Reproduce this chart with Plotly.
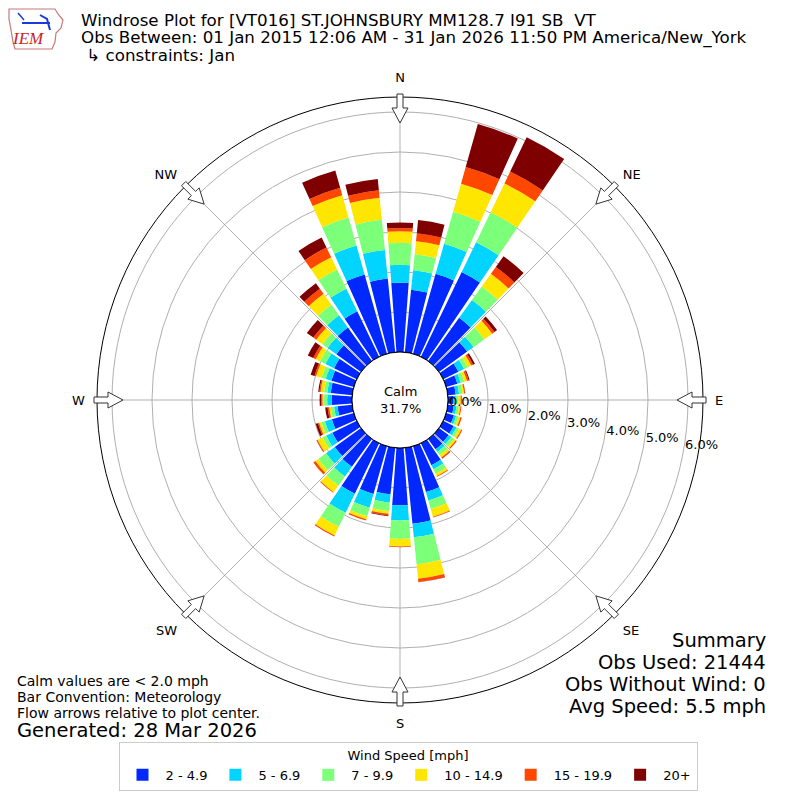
import math

import plotly.graph_objects as go

# wind direction bins (degrees, meteorological convention)
directions = list(range(0, 360, 10))

speed_bins = ["2 - 4.9", "5 - 6.9", "7 - 9.9", "10 - 14.9", "15 - 19.9", "20+"]
bin_colors = ["#0028ff", "#00d4ff", "#7cff79", "#ffe600", "#ff4700", "#7f0000"]

# percent of observations per direction, one list per speed bin
pct_2_5 = [1.73, 1.57, 2.08, 2.35, 1.33, 0.87, 0.42, 0.29, 0.20, 0.13, 0.15, 0.20,
           0.29, 0.30, 0.32, 0.61, 1.19, 1.91, 1.43, 1.17, 1.24, 1.40, 0.86, 0.81,
           0.68, 0.57, 0.37, 0.51, 0.54, 0.58, 0.63, 0.76, 1.03, 1.26, 2.06, 1.85]
pct_5_7 = [0.45, 0.49, 0.78, 0.83, 0.55, 0.20, 0.16, 0.09, 0.085, 0.07, 0.07, 0.06,
           0.08, 0.08, 0.08, 0.11, 0.22, 0.34, 0.38, 0.21, 0.36, 0.53, 0.30, 0.27,
           0.17, 0.18, 0.085, 0.11, 0.085, 0.15, 0.24, 0.27, 0.38, 0.63, 0.75, 0.72]
pct_7_10 = [0.55, 0.40, 0.83, 0.83, 0.42, 0.33, 0.10, 0.09, 0.085, 0.06, 0.06, 0.06,
            0.07, 0.08, 0.10, 0.13, 0.22, 0.68, 0.46, 0.21, 0.22, 0.39, 0.28, 0.24,
            0.10, 0.09, 0.085, 0.08, 0.085, 0.11, 0.15, 0.16, 0.33, 0.53, 0.73, 0.76]
pct_10_15 = [0.29, 0.33, 0.73, 0.80, 0.39, 0.24, 0.10, 0.07, 0.04, 0.06, 0.04, 0.05,
             0.06, 0.06, 0.07, 0.06, 0.20, 0.36, 0.19, 0.07, 0.08, 0.24, 0.20, 0.09,
             0.14, 0.06, 0.04, 0.04, 0.085, 0.14, 0.12, 0.19, 0.33, 0.34, 0.58, 0.55]
pct_15_20 = [0.08, 0.20, 0.43, 0.33, 0.21, 0.07, 0.05, 0.045, 0.025, 0.025, 0.025, 0.035,
             0.03, 0.03, 0.03, 0.02, 0.02, 0.08, 0.02, 0.04, 0.03, 0.03, 0.02, 0.06,
             0.02, 0.03, 0.04, 0.03, 0.03, 0.04, 0.07, 0.09, 0.16, 0.27, 0.19, 0.19]
pct_20_up = [0.14, 0.33, 1.12, 0.95, 0.33, 0.08, 0.05, 0.025, 0.005, 0.005, 0.0, 0.0,
             0.0, 0.0, 0.01, 0.0, 0.0, 0.01, 0.0, 0.02, 0.0, 0.0, 0.0, 0.0,
             0.01, 0.06, 0.06, 0.04, 0.03, 0.10, 0.15, 0.20, 0.17, 0.28, 0.45, 0.28]

series = [pct_2_5, pct_5_7, pct_7_10, pct_10_15, pct_15_20, pct_20_up]

compass_angles = [0, 45, 90, 135, 180, 225, 270, 315]
compass_labels = ["N", "NE", "E", "SE", "S", "SW", "W", "NW"]
radial_ticks = [0, 1, 2, 3, 4, 5, 6]

calm_pct = 31.7
title_lines = [
    "Windrose Plot for [VT016] ST.JOHNSBURY MM128.7 I91 SB  VT",
    "Obs Between: 01 Jan 2015 12:06 AM - 31 Jan 2026 11:50 PM America/New_York",
    " \u21b3 constraints: Jan",
]
notes = ["Calm values are < 2.0 mph", "Bar Convention: Meteorology",
         "Flow arrows relative to plot center."]
summary = ["Summary", "Obs Used: 21444", "Obs Without Wind: 0", "Avg Speed: 5.5 mph"]

W = 800
OFF = 8  # page body margin
CX, CY, R = 400, 400, 303

fig = go.Figure()
for name, color, vals in zip(speed_bins, bin_colors, series):
    fig.add_trace(go.Barpolar(r=vals, theta=directions, name=name, width=8.5,
                              marker=dict(color=color, line=dict(width=0))))

# black edge around the calm hole
fig.add_trace(go.Scatterpolar(r=[0] * 361, theta=list(range(361)), mode="lines",
                              line=dict(color="black", width=1), showlegend=False,
                              hoverinfo="skip"))


def px2paper(x, y):
    return (x - OFF) / W, 1 - (y - OFF) / W


def pix_path(pts, close=True):
    out = ""
    for i, (x, y) in enumerate(pts):
        px, py = px2paper(x, y)
        out += ("M" if i == 0 else "L") + f"{px:.5f},{py:.5f} "
    return out + ("Z" if close else "")


# hollow flow arrows at compass points, pointing inward
shapes = []
for a in compass_angles:
    t = math.radians(a)
    ux, uy = math.sin(t), -math.cos(t)
    vx, vy = math.cos(t), math.sin(t)
    pts = [(277, 0), (292, 8), (292, 3), (306, 3), (306, -3), (292, -3), (292, -8)]
    xy = [(CX + rr * ux + ww * vx, CY + rr * uy + ww * vy) for rr, ww in pts]
    shapes.append(dict(type="path", path=pix_path(xy), xref="paper", yref="paper",
                       line=dict(color="#333333", width=1), fillcolor="white"))

# rough IEM logo: state outline and vane
shapes.append(dict(type="path", xref="paper", yref="paper",
                   path=pix_path([(9, 9), (55, 9), (58, 14), (63, 20), (61, 28), (56, 33),
                                  (55, 42), (52, 49), (15, 49), (13, 42), (11, 30),
                                  (9, 19)]),
                   line=dict(color="#c87878", width=1.2)))
shapes.append(dict(type="path", xref="paper", yref="paper",
                   path=pix_path([(22, 23), (50, 23)], close=False),
                   line=dict(color="#1a3adb", width=2)))
shapes.append(dict(type="path", xref="paper", yref="paper",
                   path=pix_path([(18, 13), (24, 20)], close=False),
                   line=dict(color="#1a3adb", width=1.5)))
shapes.append(dict(type="path", xref="paper", yref="paper",
                   path=pix_path([(40, 15), (47, 19), (50, 30)], close=False),
                   line=dict(color="#1a3adb", width=2)))


def label(text, x, y, size, anchor="left", **font):
    px, py = px2paper(x, y)
    return dict(text=text, x=px, y=py, xref="paper", yref="paper", xanchor=anchor,
                yanchor="middle", showarrow=False, font=dict(size=size, **font))


annotations = []
for i, line in enumerate(title_lines):
    annotations.append(label(line, 79, 20 + 17.5 * i, 16.7))
annotations.append(label("<i>IEM</i>", 28, 39, 17, anchor="center", color="#cc2222",
                         family="Liberation Serif"))
annotations.append(label(f"Calm<br>{calm_pct}%", CX, CY, 13, anchor="center"))
for i, line in enumerate(notes):
    annotations.append(label(line, 15, 681 + 16 * i, 14))
annotations.append(label("Generated: 28 Mar 2026", 15, 730, 19.5))
for i, line in enumerate(summary):
    annotations.append(label(line, 768, 640 + 22 * i, 19.5, anchor="right"))

cx, cy = px2paper(CX, CY)
fig.update_layout(
    width=W, height=W,
    margin=dict(l=0, r=0, t=0, b=0),
    paper_bgcolor="white",
    font=dict(family="DejaVu Sans", color="black"),
    polar=dict(
        domain=dict(x=[cx - R / W, cx + R / W], y=[cy - R / W, cy + R / W]),
        hole=48 / R,
        bgcolor="white",
        barmode="stack",
        radialaxis=dict(range=[0, 6.375], tickvals=radial_ticks,
                        ticktext=[f"{v:.1f}%" for v in radial_ticks],
                        angle=-10.4, tickangle=-10.4, side="counterclockwise",
                        showline=False, ticks="", gridcolor="#b0b0b0",
                        tickfont=dict(size=13)),
        angularaxis=dict(rotation=90, direction="clockwise", tickvals=compass_angles,
                         ticktext=compass_labels, showline=True, linecolor="black",
                         linewidth=1, gridcolor="#b0b0b0", ticks="outside", ticklen=9,
                         tickcolor="rgba(0,0,0,0)", tickfont=dict(size=13)),
    ),
    legend=dict(orientation="h", x=0.5, xanchor="center", y=px2paper(0, 742)[1],
                yanchor="top", bordercolor="#cccccc", borderwidth=1, itemwidth=36,
                font=dict(size=13),
                title=dict(text="Wind Speed [mph]", side="top center",
                           font=dict(size=13))),
    shapes=shapes,
    annotations=annotations,
)

fig.write_html("out.html")
